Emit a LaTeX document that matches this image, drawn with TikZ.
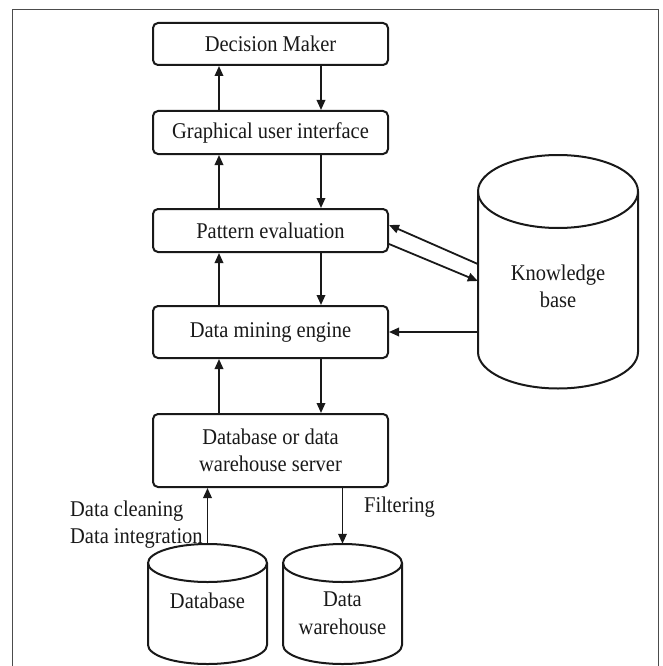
\documentclass[tikz,border=0pt]{standalone}
\usepackage{fontspec}
\setmainfont[FakeStretch=0.91]{Liberation Serif}
\usetikzlibrary{arrows.meta}

% drum outline: centre x, top-ellipse y, bottom-ellipse y, x radius, y radius
\newcommand\drumshape[5]{%
  \draw[drum] (#1-#4,#2) -- (#1-#4,#3)
    arc[start angle=180,end angle=0,x radius=#4,y radius=#5] -- (#1+#4,#2);
  \draw[drum] (#1,#2) ellipse[x radius=#4,y radius=#5];}

\begin{document}
\begin{tikzpicture}[x=1pt,y=-1pt,
  every node/.style={font=\fontsize{22.5}{27.5}\selectfont, text=black!90},
  procbox/.style={draw=black!90, line width=2pt, rounded corners=5pt,
    minimum width=235pt, align=center, inner sep=0pt},
  flow/.style={draw=black!90, line width=1.8pt, -{Triangle[length=10pt,width=8.5pt]}},
  drum/.style={draw=black!90, line width=2pt},
  frame/.style={line width=1pt, draw=black!70},
  drumtext/.style={align=center, inner sep=0pt}]
\useasboundingbox (0,0) rectangle (662,666);
\draw[frame] (12.5,666) -- (12.5,9.5) -- (658.5,9.5) -- (658.5,666);

% processing layers
\node[procbox, minimum height=42pt] (dm)  at (270.5,44)    {Decision Maker};
\node[procbox, minimum height=43pt] (gui) at (270.5,132.5) {Graphical user interface};
\node[procbox, minimum height=43pt] (pe)  at (270.5,230.5) {Pattern evaluation};
\node[procbox, minimum height=52pt] (dme) at (270.5,332)   {Data mining engine};
\node[procbox, minimum height=73pt] (dbs) at (270.5,450.5) {Database or data\\warehouse server};

% storage drums
\drumshape{558}{191.5}{352}{80}{36.5}
\drumshape{207.5}{563}{645}{59.5}{19}
\drumshape{342.5}{563}{645}{59.5}{19}
\node[drumtext, minimum width=160pt] (kb) at (558,286.5) {Knowledge\\base};
\node[drumtext, minimum width=119pt, minimum height=114pt] (db) at (207.5,601) {Database};
\node[drumtext, minimum width=119pt, minimum height=138pt] (dw) at (342.5,613) {Data\\warehouse};

% vertical flows between layers
\foreach \lo/\hi in {gui/dm, pe/gui, dme/pe, dbs/dme} {
  \draw[flow] ([xshift=-51.5pt]\lo.north) -- ([xshift=-51.5pt]\hi.south);
  \draw[flow] ([xshift=50.5pt]\hi.south) -- ([xshift=50.5pt]\lo.north);
}

% knowledge base links
\draw[flow] ([yshift=22.5pt]kb.west) -- ([yshift=5.5pt]pe.east);
\draw[flow] ([yshift=-13.5pt]pe.east) -- ([yshift=5.5pt]kb.west);
\draw[flow] (kb.west |- dme.east) -- (dme.east);

% sources
\draw[flow] (db.north) -- (db.north |- dbs.south);
\draw[flow] (dbs.south -| dw.north) -- (dw.north);
\node[anchor=west, align=left, inner sep=0pt] (clean) at (70,524.5) {Data cleaning\\Data integration};
\node[anchor=west, inner sep=0pt] (filt) at (364,507) {Filtering};
\end{tikzpicture}
\end{document}
